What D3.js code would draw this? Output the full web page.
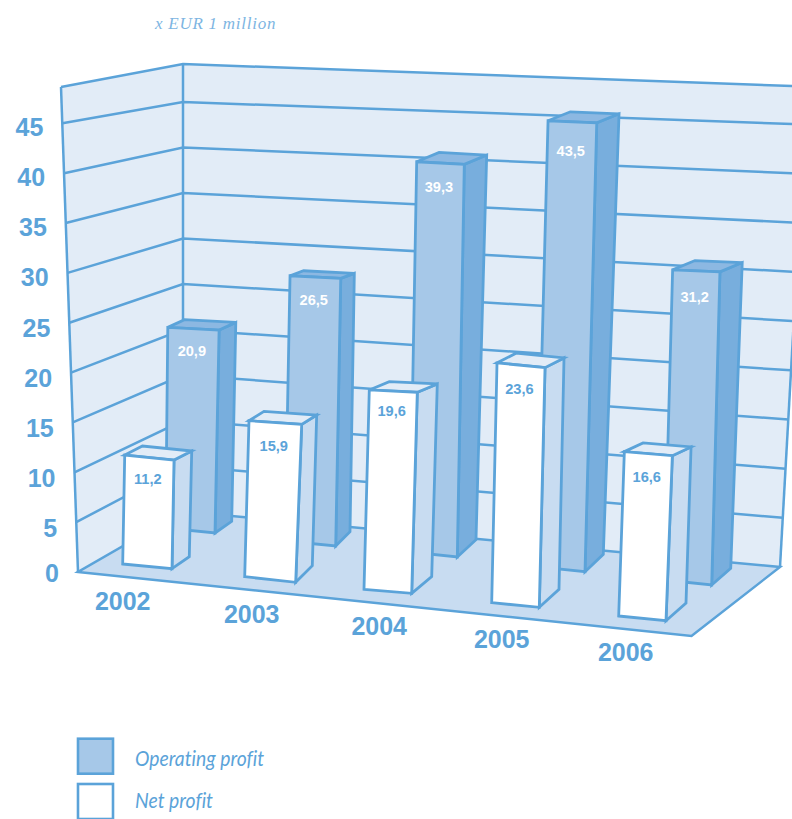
<!DOCTYPE html>
<html>
<head>
<meta charset="utf-8">
<script src="https://cdn.jsdelivr.net/npm/d3@7"></script>
<style>
  html, body { margin: 0; padding: 0; background: #fff; overflow: hidden; }
  svg { display: block; }
</style>
</head>
<body>
<svg id="chart" width="792" height="819"></svg>
<script>
// Chart values
const years = ["2002", "2003", "2004", "2005", "2006"];
const operatingProfit = [20.9, 26.5, 39.3, 43.5, 31.2];
const netProfit = [11.2, 15.9, 19.6, 23.6, 16.6];
const wallTicks = [0, 5, 10, 15, 20, 25, 30, 35, 40, 45];
const legendLabels = ["Operating profit", "Net profit"];
const unitLabel = "x EUR 1 million";

// Palette
const ink = "#5BA3D9";
const wallFill = "#E2ECF7";
const floorFill = "#C8DCF1";
const opFront = "#A6C8E8", opSide = "#78AEDD", opTop = "#8CB8E2";

const svg = d3.select("#chart");
const poly = pts => d3.line()(pts) + "Z";
const slots = d3.range(years.length);
const slotScale = range => d3.scaleLinear(slots, range);
const wallMax = 49;
const wallStops = [0, 45, wallMax];

// The box: three vertical edges, each with its own value-to-pixel scales
const frontEdgeX = d3.scaleLinear([0, wallMax], [78, 61]);
const frontEdgeY = d3.scaleLinear(wallStops, [572, 123.3, 87]);
const backEdgeX = d3.scaleLinear([0, wallMax], [183, 183]);
const backEdgeY = d3.scaleLinear(wallStops, [511.5, 102, 64]);
const rightEdgeX = d3.scaleLinear([0, wallMax], [780, 807]);
const rightEdgeY = d3.scaleLinear(wallStops, [567, 124.5, 86.5]);

const front = v => [frontEdgeX(v), frontEdgeY(v)];
const back = v => [backEdgeX(v), backEdgeY(v)];
const right = v => [rightEdgeX(v), rightEdgeY(v)];
const floorNear = [691.5, 636];

// Back wall, side wall, floor
svg.append("path").attr("d", poly([back(0), right(0), right(wallMax), back(wallMax)])).attr("fill", wallFill);
svg.append("path").attr("d", poly([front(0), back(0), back(wallMax), front(wallMax)])).attr("fill", wallFill);

const gridG = svg.append("g").attr("fill", "none").attr("stroke", ink).attr("stroke-width", 2.5);
const gridValues = wallTicks.filter(v => v > 0).concat([wallMax]);
gridG.selectAll("path.grid").data(gridValues).join("path").attr("class", "grid")
  .attr("d", v => d3.line()([front(v), back(v), right(v)]));
gridG.append("path").attr("d", d3.line()([front(0), front(wallMax)]));
gridG.append("path").attr("d", d3.line()([back(0), back(wallMax)]));
gridG.append("path").attr("d", d3.line()([right(0), right(wallMax)]));

svg.append("path")
  .attr("d", poly([front(0), floorNear, right(0), back(0)]))
  .attr("fill", floorFill).attr("stroke", ink).attr("stroke-width", 2.5).attr("stroke-linejoin", "miter");

// Per-row bar geometry by year slot; the drawing was hand-skewed, so each slot differs a little
const netRow = {
  x: slotScale([122.7, 244.7, 364, 491.7, 618.7]),
  y: slotScale([564, 576.7, 589.3, 602.7, 616]),
  floorWidth: slotScale([49.3, 51, 47.7, 47.6, 47.3]),
  topWidth: slotScale([49.3, 52.7, 48, 48, 48]),
  lean: slotScale([0.18, 0.27, 0.27, 0.225, 0.34]),
  unit: slotScale([9.73, 9.81, 10.17, 10.16, 9.9]),
  floorDrop: slotScale([4.7, 5.6, 4, 4.6, 4.7]),
  topDrop: slotScale([5, 3.6, 2.3, 4.7, 4]),
  floorDepth: slotScale([17.3, 16.6, 20, 19.7, 20]),
  topDepth: slotScale([17.7, 15, 20, 19, 18.7]),
  floorRise: slotScale([12, 16.6, 16.6, 18, 17.6]),
  topRise: slotScale([9, 9.3, 8.3, 9.7, 8.7]),
  labelDown: slotScale([29, 30.3, 26, 31, 30])
};
const opRow = {
  x: slotScale([165.7, 285, 409.7, 536.3, 664.2]),
  y: slotScale([528, 541, 552, 566.7, 580]),
  floorWidth: slotScale([49.3, 50.7, 47.6, 48.7, 47.5]),
  topWidth: slotScale([51.3, 50.7, 47.6, 48.7, 47.3]),
  lean: slotScale([0.1, 0.19, 0.178, 0.27, 0.27]),
  unit: slotScale([9.6, 10.01, 9.93, 10.25, 9.94]),
  floorDrop: slotScale([5, 5, 5, 5, 5]),
  topDrop: slotScale([2.7, 2.6, 2.6, 2, 2]),
  floorDepth: slotScale([16.7, 14.3, 18.7, 18.3, 19]),
  topDepth: slotScale([16.7, 13.6, 22.4, 22.3, 22.3]),
  floorRise: slotScale([11.7, 14.3, 17.3, 17.4, 16.7]),
  topRise: slotScale([7.7, 5, 9.3, 9, 9.3]),
  labelDown: slotScale([28.7, 29.3, 30, 35, 32])
};

// Corner of a bar: side 0/1 = left/right, rear 0/1 = front/back, v = value height
function corner(r, i, side, rear, v) {
  const atFloor = v === 0;
  const width = atFloor ? r.floorWidth(i) : r.topWidth(i);
  const drop = atFloor ? r.floorDrop(i) : r.topDrop(i);
  const rise = atFloor ? r.floorRise(i) : r.topRise(i);
  const depth = atFloor ? r.floorDepth(i) : r.topDepth(i);
  return [
    r.x(i) + r.lean(i) * v + side * width + rear * depth,
    r.y(i) - r.unit(i) * v + side * drop - rear * rise
  ];
}

function drawRow(r, values, frontFill, sideFill, topFill, labelFill) {
  const g = svg.append("g").attr("stroke", ink).attr("stroke-width", 2.8).attr("stroke-linejoin", "miter");
  const bars = g.selectAll("g").data(values).join("g");
  bars.append("path").attr("fill", sideFill)
    .attr("d", (v, i) => poly([corner(r, i, 1, 0, 0), corner(r, i, 1, 1, 0), corner(r, i, 1, 1, v), corner(r, i, 1, 0, v)]));
  bars.append("path").attr("fill", topFill)
    .attr("d", (v, i) => poly([corner(r, i, 0, 0, v), corner(r, i, 1, 0, v), corner(r, i, 1, 1, v), corner(r, i, 0, 1, v)]));
  bars.append("path").attr("fill", frontFill)
    .attr("d", (v, i) => poly([corner(r, i, 0, 0, 0), corner(r, i, 1, 0, 0), corner(r, i, 1, 0, v), corner(r, i, 0, 0, v)]));
  bars.append("text")
    .attr("x", (v, i) => corner(r, i, 0, 0, v)[0] + r.topWidth(i) / 2 - 1.6)
    .attr("y", (v, i) => corner(r, i, 0, 0, v)[1] + r.labelDown(i))
    .attr("text-anchor", "middle")
    .attr("font-family", "'Liberation Sans', Arial, sans-serif")
    .attr("font-weight", "bold").attr("font-size", 14.6)
    .attr("stroke", "none").attr("fill", labelFill)
    .text(v => String(v).replace(".", ","));
}

drawRow(opRow, operatingProfit, opFront, opSide, opTop, "#ffffff");
drawRow(netRow, netProfit, "#ffffff", floorFill, wallFill, ink);

// Value labels down the side wall
const tickBaseline = d3.scaleLinear([0, 5, 45], [582, 537, 136]);
svg.append("g").selectAll("text").data(wallTicks).join("text")
  .attr("x", v => frontEdgeX(v) - 19)
  .attr("y", v => tickBaseline(v))
  .attr("text-anchor", "end")
  .attr("font-family", "'Liberation Sans', Arial, sans-serif")
  .attr("font-weight", "bold").attr("font-size", 25).attr("fill", ink)
  .text(d => d);

// Year labels along the front of the floor
const yearX = slotScale([122.7, 251.7, 379.2, 501.7, 625.7]);
const yearBaseline = d3.scaleLinear([0, 4], [610, 660.7]);
svg.append("g").selectAll("text").data(years).join("text")
  .attr("x", (d, i) => yearX(i))
  .attr("y", (d, i) => yearBaseline(i))
  .attr("text-anchor", "middle")
  .attr("font-family", "'Liberation Sans', Arial, sans-serif")
  .attr("font-weight", "bold").attr("font-size", 25).attr("fill", ink)
  .text(d => d);

// Unit caption
svg.append("text").attr("x", 155).attr("y", 29)
  .attr("font-family", "'Liberation Serif', serif").attr("font-style", "italic")
  .attr("font-size", 17).attr("letter-spacing", 0.75).attr("fill", "#7DB5E2")
  .text(unitLabel);

// Legend
const legendBoxY = d3.scalePoint(legendLabels, [738.7, 784]);
const legendTextY = d3.scalePoint(legendLabels, [766, 808]);
const legendTextWidth = d3.scaleOrdinal(legendLabels, [129, 78]);
const legend = svg.append("g").selectAll("g").data(legendLabels).join("g");
legend.append("rect")
  .attr("x", 78).attr("y", d => legendBoxY(d))
  .attr("width", 35).attr("height", 35)
  .attr("fill", (d, i) => i === 0 ? opFront : "#ffffff")
  .attr("stroke", ink).attr("stroke-width", 2.6);
legend.append("text")
  .attr("x", 135).attr("y", d => legendTextY(d))
  .attr("font-family", "Lato, sans-serif").attr("font-style", "italic")
  .attr("font-size", 21.5).attr("fill", ink)
  .style("font-variant-ligatures", "none")
  .attr("textLength", d => legendTextWidth(d))
  .attr("lengthAdjust", "spacingAndGlyphs")
  .text(d => d);
</script>
</body>
</html>
